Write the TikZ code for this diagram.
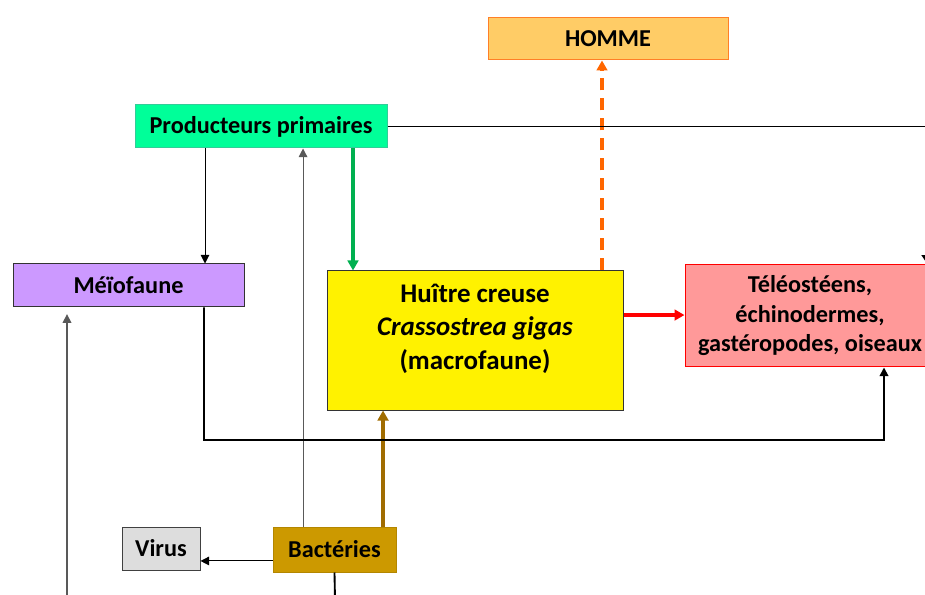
\documentclass[tikz,border=0pt]{standalone}
\usepackage{fontspec}
\setmainfont{Carlito}
\usetikzlibrary{arrows.meta}

\definecolor{hommefill}{HTML}{FFCC66}
\definecolor{hommeline}{HTML}{FF7F27}
\definecolor{prodfill}{HTML}{00FF99}
\definecolor{prodline}{HTML}{33CC99}
\definecolor{meiofill}{HTML}{CC99FF}
\definecolor{telefill}{HTML}{FF9999}
\definecolor{virusfill}{HTML}{DDDDDD}
\definecolor{bactfill}{HTML}{CC9900}
\definecolor{bactline}{HTML}{B38600}
\definecolor{vert}{HTML}{00B050}
\definecolor{brun}{HTML}{A06C00}
\definecolor{orange}{HTML}{FF6600}

\begin{document}
\begin{tikzpicture}[x=0.75pt,y=-0.75pt,
    box/.style={draw,line width=0.75pt,inner sep=2pt,align=center,
      font=\fontsize{18.2}{22.1}\selectfont\bfseries},
    fine/.style={line width=0.75pt,-{Triangle[length=6.5pt,width=6.5pt]}},
    gris/.style={fine,draw=black!65},
    epais/.style={line width=2.5pt,-{Triangle[length=7.5pt,width=8pt]}}]

  \useasboundingbox (0,0) rectangle (925,595);

  \begin{scope}[every node/.style={box}]
    \node (homme) at (608,39) [fill=hommefill,draw=hommeline,
      minimum width=180pt,minimum height=31.5pt] {HOMME};
    \node (prod) at (261,126.5) [fill=prodfill,draw=prodline,
      minimum width=189pt,minimum height=32.25pt] {Producteurs primaires};
    \node (meio) at (128.5,285.5) [fill=meiofill,draw=black!80,
      minimum width=173.25pt,minimum height=32.25pt] {Méïofaune};
    \node (huitre) at (475,340.5) [fill=yellow,draw=black!80,inner sep=0pt,
      font=\fontsize{20.2}{24.75}\selectfont\bfseries]
      {\parbox[c][104.25pt][t]{222pt}{\centering\rule{0pt}{24pt}Huître creuse\\
       \textit{Crassostrea gigas}\\(macrofaune)}};
    \node (tele) at (810,316) [fill=telefill,draw=red,
      minimum width=187.5pt,minimum height=76.5pt]
      {Téléostéens,\\échinodermes,\\gastéropodes, oiseaux};
    \node (virus) at (161,548.5) [fill=virusfill,draw=black!75,
      minimum width=58.5pt,minimum height=32.25pt] {Virus};
    \node (bact) at (334.5,549.5) [fill=bactfill,draw=bactline,
      minimum width=92.25pt,minimum height=33.75pt] {Bactéries};
  \end{scope}

  \coordinate (detour) at (204,440);
  \coordinate (fondmeio) at (67,600);
  \coordinate (fondbact) at (335,600);

  % flux
  \draw[fine] ([xshift=-42pt]prod.south) -- ([xshift=-42pt]prod.south |- meio.north);
  \draw[epais,vert] ([xshift=69pt]prod.south) -- ([xshift=69pt]prod.south |- huitre.north);
  \draw[gris] ([xshift=-23.6pt]bact.north) -- ([xshift=-23.6pt]bact.north |- prod.south);
  \draw[epais,brun] ([xshift=36.4pt]bact.north) -- ([xshift=36.4pt]bact.north |- huitre.south);
  \draw[epais,orange,dash pattern=on 9pt off 6pt]
    ([xshift=95.25pt]huitre.north) -- ([xshift=95.25pt]huitre.north |- homme.south);
  \draw[epais,red] ([yshift=19.1pt]huitre.east) -- ([yshift=19.1pt]huitre.east -| tele.west);
  \draw[fine,line width=1.4pt] ([xshift=56.6pt]meio.south) -- (detour)
    -| ([xshift=55.5pt]tele.south);
  \draw[fine] ([yshift=-8.6pt]bact.west) -- ([yshift=-8.6pt]bact.west -| virus.east);
  \draw[gris,line width=1pt,shorten >=5pt] (fondmeio) -- (fondmeio |- meio.south);
  \draw[line width=1.4pt] (bact.south) -- (fondbact);
  \draw[line width=1.4pt,-{Triangle[length=7pt,width=9pt]}]
    (prod.east) -| ([xshift=88.2pt]tele.north);

\end{tikzpicture}
\end{document}
